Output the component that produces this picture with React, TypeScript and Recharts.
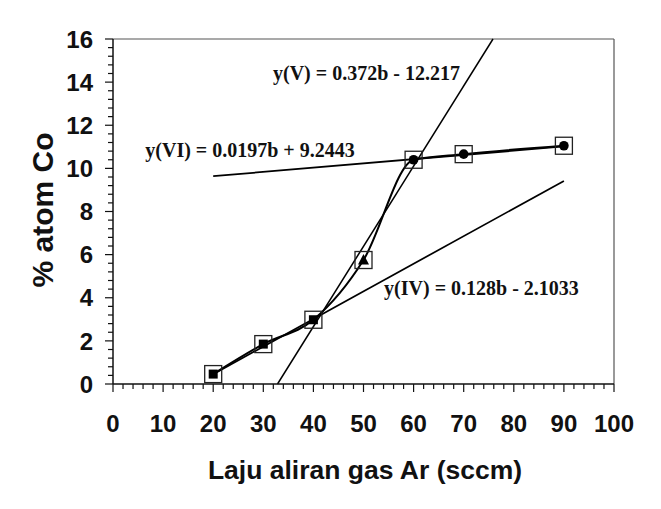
import { ComposedChart, Line, XAxis, YAxis, ReferenceLine, ReferenceDot } from "recharts";

// measured points: Ar flow rate (sccm) vs % atom Co
const flowRates = [20, 30, 40, 50, 60, 70, 90];
const coPercent = [0.46, 1.85, 2.98, 5.75, 10.4, 10.66, 11.05];
const markerShapes = ["square", "square", "square", "triangle", "circle", "circle", "circle"];

// fitted lines, end points
const fitIVx = [20, 90];
const fitIVy = [0.457, 9.417];
const fitVx = [32.84, 75.85];
const fitVy = [0, 16];
const fitVIx = [20, 90];
const fitVIy = [9.638, 11.017];

// equation labels
const eqText = ["y(V) = 0.372b - 12.217", "y(VI) = 0.0197b + 9.2443", "y(IV) = 0.128b - 2.1033"];
const eqX = [50.6, 27.35, 73.55];
const eqY = [14.42, 10.85, 4.48];

const xTickLabels = [0, 10, 20, 30, 40, 50, 60, 70, 80, 90, 100];
const yTickLabels = [0, 2, 4, 6, 8, 10, 12, 14, 16];
const minorPerMajor = 5;

const toPoints = (xs: number[], ys: number[]) => xs.map((x, i) => ({ x, y: ys[i] }));
const mainData = toPoints(flowRates, coPercent);
const fitIV = toPoints(fitIVx, fitIVy);
const fitV = toPoints(fitVx, fitVy);
const fitVI = toPoints(fitVIx, fitVIy);

const withMinor = (majors: number[], n: number) =>
  majors.flatMap((m, i) =>
    i === majors.length - 1 ? [m] : Array.from({ length: n }, (_, k) => m + ((majors[i + 1] - m) * k) / n)
  );

const isMajor = (list: number[], v: number) => list.some((t) => Math.abs(t - v) < 1e-6);

const tickFont = '"Liberation Sans", Arial, sans-serif';
const eqFont = '"Liberation Serif", "Times New Roman", serif';

const XTick = (props: any) => {
  const { x, y, payload } = props;
  const major = isMajor(xTickLabels, payload.value);
  return (
    <g>
      <line x1={x} x2={x} y1={y} y2={y + (major ? 8 : 5)} stroke="#111" strokeWidth={1.2} />
      {major && (
        <text x={x} y={y + 48} textAnchor="middle" fontFamily={tickFont} fontWeight="bold" fontSize={24} fill="#111">
          {Math.round(payload.value)}
        </text>
      )}
    </g>
  );
};

const YTick = (props: any) => {
  const { x, y, payload } = props;
  const major = isMajor(yTickLabels, payload.value);
  return (
    <g>
      <line x1={x} x2={x - (major ? 8 : 5)} y1={y} y2={y} stroke="#111" strokeWidth={1.2} />
      {major && (
        <text x={x - 20} y={y} dy="0.36em" textAnchor="end" fontFamily={tickFont} fontWeight="bold" fontSize={24} fill="#111">
          {Math.round(payload.value)}
        </text>
      )}
    </g>
  );
};

const Marker = (props: any) => {
  const { cx, cy, index } = props;
  const shape = markerShapes[index];
  let inner;
  if (shape === "square") inner = <rect x={cx - 4.5} y={cy - 4.5} width={9} height={9} fill="#000" />;
  else if (shape === "triangle")
    inner = <polygon points={`${cx},${cy - 6} ${cx - 5.5},${cy + 4.5} ${cx + 5.5},${cy + 4.5}`} fill="#000" />;
  else inner = <circle cx={cx} cy={cy} r={4.8} fill="#000" />;
  return (
    <g key={`m-${index}`}>
      <rect x={cx - 8.5} y={cy - 8.5} width={17} height={17} fill="none" stroke="#222" strokeWidth={1.3} />
      {inner}
    </g>
  );
};

export default function App() {
  return (
    <div style={{ position: "relative", width: 661, height: 509, margin: -8, background: "#fff" }}>
      <ComposedChart width={661} height={509} margin={{ top: 39, right: 47, left: 0, bottom: 25 }}>
        <XAxis
          type="number"
          dataKey="x"
          domain={[0, 100]}
          ticks={withMinor(xTickLabels, minorPerMajor)}
          interval={0}
          tick={XTick}
          tickLine={false}
          tickSize={0}
          tickMargin={0}
          axisLine={{ stroke: "#111", strokeWidth: 1.5 }}
          height={100}
        />
        <YAxis
          type="number"
          dataKey="y"
          domain={[0, 16]}
          ticks={withMinor(yTickLabels, minorPerMajor)}
          interval={0}
          tick={YTick}
          tickLine={false}
          tickSize={0}
          tickMargin={0}
          axisLine={{ stroke: "#111", strokeWidth: 1.5 }}
          width={113}
        />
        <ReferenceLine y={16} stroke="#555" strokeWidth={1.2} />
        <ReferenceLine x={100} stroke="#555" strokeWidth={1.2} />
        <Line data={fitIV} dataKey="y" type="linear" stroke="#000" strokeWidth={1.7} dot={false} isAnimationActive={false} />
        <Line data={fitV} dataKey="y" type="linear" stroke="#000" strokeWidth={1.5} dot={false} isAnimationActive={false} />
        <Line data={fitVI} dataKey="y" type="linear" stroke="#000" strokeWidth={1.8} dot={false} isAnimationActive={false} />
        <Line data={mainData} dataKey="y" type="monotoneX" stroke="#000" strokeWidth={2} dot={Marker} isAnimationActive={false} />
        {eqText.map((t, i) => (
          <ReferenceDot
            key={t}
            x={eqX[i]}
            y={eqY[i]}
            r={1}
            fill="none"
            stroke="none"
            label={{ value: t, position: "center", fill: "#111", fontSize: 20, fontWeight: "bold", fontFamily: eqFont }}
          />
        ))}
      </ComposedChart>
      <svg width={661} height={509} style={{ position: "absolute", left: 0, top: 0, pointerEvents: "none" }}>
        <text x={365} y={479} textAnchor="middle" fontFamily={tickFont} fontWeight="bold" fontSize={26.5} fill="#111">
          Laju aliran gas Ar (sccm)
        </text>
        <text
          x={53}
          y={210}
          textAnchor="middle"
          transform="rotate(-90, 53, 210)"
          fontFamily={tickFont}
          fontWeight="bold"
          fontSize={30}
          fill="#111"
        >
          % atom Co
        </text>
      </svg>
    </div>
  );
}
